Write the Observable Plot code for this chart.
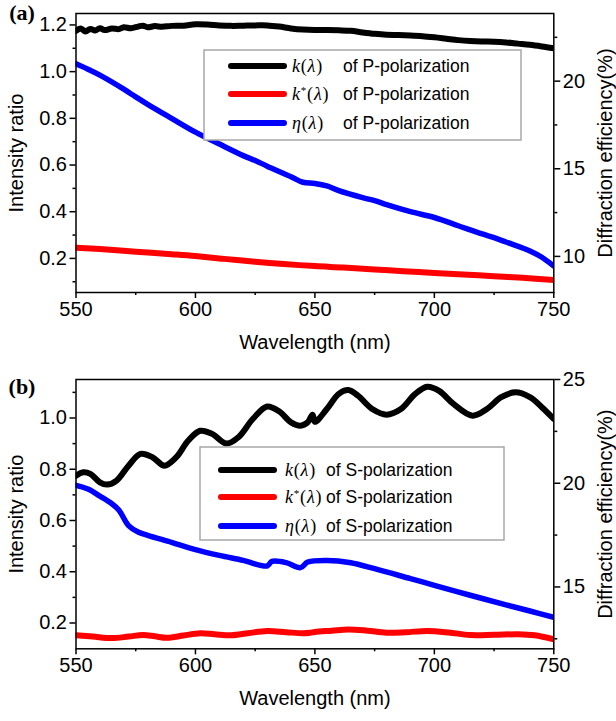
<!DOCTYPE html>
<html><head><meta charset="utf-8">
<script src="https://cdn.jsdelivr.net/npm/d3@7"></script>
<script src="https://cdn.jsdelivr.net/npm/@observablehq/plot@0.6"></script>
<style>
body{margin:0;background:#fff;}
#wrap{position:relative;width:616px;height:721px;overflow:hidden;background:#fff;}
#wrap svg{display:block;}
#overlay{position:absolute;left:0;top:0;pointer-events:none;}
</style></head><body><div id="wrap"></div>
<script>
// ---------- data ----------
const wavelengthTicks = [550, 600, 650, 700, 750];
const wavelengthMinor = [575, 625, 675, 725];

// Panel (a) P-polarization: [wavelength nm, value]
const kP = [[550,1.175],[552,1.185],[554,1.172],[556,1.183],[558,1.176],[560,1.186],[562,1.178],[565,1.185],[568,1.182],[570,1.19],[573,1.186],[576,1.193],[578,1.197],[580,1.19],[583,1.195],[586,1.192],[590,1.196],[595,1.197],[600,1.203],[605,1.202],[610,1.198],[615,1.196],[620,1.197],[625,1.198],[630,1.198],[635,1.193],[640,1.185],[645,1.18],[650,1.178],[655,1.178],[660,1.177],[665,1.175],[670,1.168],[675,1.162],[680,1.158],[685,1.157],[690,1.155],[695,1.152],[700,1.147],[705,1.141],[710,1.135],[715,1.131],[720,1.129],[725,1.128],[730,1.125],[735,1.12],[740,1.115],[745,1.108],[750,1.10]];
const kStarP = [[550,0.246],[560,0.24],[575,0.229],[590,0.218],[600,0.21],[612,0.198],[625,0.186],[637,0.176],[650,0.167],[662,0.161],[675,0.153],[687,0.145],[700,0.138],[712,0.131],[725,0.124],[737,0.117],[750,0.108]];
const etaP = [[550,20.99],[555,20.68],[560,20.34],[570,19.54],[575,19.10],[580,18.68],[590,17.88],[600,17.09],[610,16.41],[620,15.75],[625,15.47],[630,15.15],[640,14.55],[645,14.23],[650,14.16],[655,14.02],[660,13.75],[670,13.35],[675,13.18],[680,12.95],[690,12.55],[700,12.22],[710,11.75],[720,11.28],[725,11.07],[730,10.82],[740,10.31],[745,9.95],[750,9.45]];

// Panel (b) S-polarization
const kS = [[550,0.775],[553,0.788],[556,0.782],[560,0.749],[563,0.74],[567,0.756],[572,0.814],[577,0.86],[582,0.847],[587,0.814],[592,0.847],[597,0.912],[602,0.95],[607,0.938],[613,0.90],[618,0.925],[624,0.996],[630,1.045],[635,1.026],[640,0.983],[644,0.97],[647,0.983],[649,1.013],[650,0.985],[655,1.035],[660,1.094],[664,1.109],[668,1.087],[674,1.035],[680,1.013],[686,1.035],[692,1.094],[697,1.122],[702,1.106],[708,1.055],[716,1.009],[722,1.035],[728,1.081],[734,1.10],[740,1.081],[745,1.042],[750,0.996]];
const kStarS = [[550,0.152],[557,0.147],[565,0.141],[572,0.147],[578,0.153],[583,0.148],[588,0.142],[595,0.151],[602,0.160],[608,0.156],[615,0.152],[622,0.160],[630,0.169],[638,0.164],[645,0.160],[648,0.162],[650,0.165],[657,0.170],[664,0.175],[672,0.170],[680,0.162],[688,0.164],[697,0.169],[706,0.163],[715,0.153],[725,0.154],[735,0.156],[742,0.152],[750,0.136]];
const etaS = [[550,19.90],[555,19.72],[560,19.38],[565,19.01],[568,18.70],[572,17.96],[576,17.65],[580,17.49],[590,17.15],[600,16.80],[610,16.52],[620,16.28],[630,16.01],[632,16.23],[638,16.17],[644,15.93],[647,16.20],[655,16.28],[665,16.17],[675,15.88],[690,15.40],[700,15.08],[715,14.60],[730,14.14],[740,13.84],[750,13.54]];

const leftTicksA = [0.2, 0.4, 0.6, 0.8, 1.0, 1.2];
const leftMinorA = [0.1, 0.3, 0.5, 0.7, 0.9, 1.1];
const rightTicksA = [10, 15, 20];
const rightMinorA = [12.5, 17.5, 22.5];
const leftTicksB = [0.2, 0.4, 0.6, 0.8, 1.0];
const leftMinorB = [0.3, 0.5, 0.7, 0.9, 1.1];
const rightTicksB = [15, 20, 25];
const rightMinorB = [12.5, 17.5, 22.5];

const legendLabelsA = ["of P-polarization", "of P-polarization", "of P-polarization"];
const legendLabelsB = ["of S-polarization", "of S-polarization", "of S-polarization"];
const colors = ["#000000", "#ff0000", "#0000ff"];

// ---------- drawing ----------
const SANS = '"Liberation Sans", Arial, sans-serif';
const SERIF = '"Liberation Serif", "Times New Roman", serif';

function panel({height, marginTop, marginBottom, yDomain, k, kStar, eta, a, b,
                leftTicks, leftMinor, rightTicks, rightMinor, tag, tagDy}) {
  const toLeft = r => a + b * r;
  const fromLeft = v => (v - a) / b;
  const lineOpts = {x: d => d[0], strokeWidth: 5.5, curve: "catmull-rom", clip: true};
  return Plot.plot({
    width: 616, height, marginLeft: 75.5, marginRight: 62.7, marginTop, marginBottom,
    style: {fontFamily: SANS, fontSize: "20px", color: "black", background: "white", overflow: "visible"},
    x: {domain: [550, 750], axis: null},
    y: {domain: yDomain, axis: null},
    marks: [
      Plot.line(kStar, {...lineOpts, y: d => d[1], stroke: colors[1], strokeWidth: 6}),
      Plot.line(eta, {...lineOpts, y: d => toLeft(d[1]), stroke: colors[2]}),
      Plot.line(k, {...lineOpts, y: d => d[1], stroke: colors[0], strokeWidth: 6}),
      Plot.frame({stroke: "black", strokeWidth: 1.5}),
      Plot.axisX({ticks: wavelengthTicks, tickSize: 6, tickPadding: 3, tickFormat: d => String(d), label: null, strokeWidth: 1.5, fontSize: 20}),
      Plot.axisX({ticks: wavelengthMinor, tickSize: 3, tickFormat: () => "", label: null, strokeWidth: 1.5}),
      Plot.axisY({anchor: "left", ticks: leftTicks, tickSize: 6, tickPadding: 3, tickFormat: d3.format(".1f"), label: null, strokeWidth: 1.5, fontSize: 20}),
      Plot.axisY({anchor: "left", ticks: leftMinor, tickSize: 3, tickFormat: () => "", label: null, strokeWidth: 1.5}),
      Plot.axisY({anchor: "right", ticks: rightTicks.map(toLeft), tickSize: 6, tickPadding: 3, tickFormat: d => String(Math.round(fromLeft(d))), label: null, strokeWidth: 1.5, fontSize: 20}),
      Plot.axisY({anchor: "right", ticks: rightMinor.map(toLeft), tickSize: 3, tickFormat: () => "", label: null, strokeWidth: 1.5}),
      Plot.text(["Wavelength (nm)"], {frameAnchor: "bottom", text: d => d, dy: 50, textAnchor: "middle", lineAnchor: "middle", fontSize: 20}),
      Plot.text(["Intensity ratio"], {frameAnchor: "left", text: d => d, rotate: -90, dx: -59, textAnchor: "middle", lineAnchor: "middle", fontSize: 20}),
      Plot.text(["Diffraction efficiency(%)"], {frameAnchor: "right", text: d => d, rotate: -90, dx: 52, textAnchor: "middle", lineAnchor: "middle", fontSize: 20}),
      Plot.text([tag], {frameAnchor: "top-left", text: d => d, dx: -54, dy: tagDy, textAnchor: "middle", lineAnchor: "middle", fontSize: 22, fontWeight: "bold", fontFamily: SERIF})
    ]
  });
}

const wrap = document.getElementById("wrap");
const svgA = panel({height: 360, marginTop: 13, marginBottom: 68, yDomain: [0.054, 1.249],
  k: kP, kStar: kStarP, eta: etaP, a: -0.5421, b: 0.07507,
  leftTicks: leftTicksA, leftMinor: leftMinorA, rightTicks: rightTicksA, rightMinor: rightMinorA, tag: "(a)", tagDy: -1});
const svgB = panel({height: 361, marginTop: 19, marginBottom: 72.7, yDomain: [0.0993, 1.1502],
  k: kS, kStar: kStarS, eta: etaS, a: -0.8736, b: 0.08095,
  leftTicks: leftTicksB, leftMinor: leftMinorB, rightTicks: rightTicksB, rightMinor: rightMinorB, tag: "(b)", tagDy: 7});
wrap.appendChild(svgA);
wrap.appendChild(svgB);

// legends (overlay)
const ov = d3.select(wrap).append("svg").attr("id", "overlay").attr("width", 616).attr("height", 721);
function legend({x, y, w, h, rowYs, lx1, lx2, mathX, textX, labels}) {
  const g = ov.append("g");
  g.append("rect").attr("x", x).attr("y", y).attr("width", w).attr("height", h)
    .attr("fill", "white").attr("stroke", "#a8a8a8").attr("stroke-width", 1.5);
  const maths = ["k", "k*", "eta"];
  rowYs.forEach((ry, i) => {
    g.append("line").attr("x1", lx1).attr("x2", lx2).attr("y1", ry).attr("y2", ry)
      .attr("stroke", colors[i]).attr("stroke-width", 6).attr("stroke-linecap", "round");
    const t = g.append("text").attr("x", mathX).attr("y", ry).attr("dy", "0.35em")
      .attr("font-family", SERIF).attr("font-size", 18).attr("letter-spacing", 0.8);
    if (maths[i] === "eta") t.append("tspan").attr("font-style", "italic").text("η");
    else t.append("tspan").attr("font-style", "italic").text("k");
    if (maths[i] === "k*") t.append("tspan").attr("dy", -6).attr("font-size", 11).text("*");
    t.append("tspan").attr("dy", maths[i] === "k*" ? 6 : 0).text("(");
    t.append("tspan").attr("font-style", "italic").text("λ");
    t.append("tspan").text(")");
    g.append("text").attr("x", textX).attr("y", ry).attr("dy", "0.35em")
      .attr("font-family", SANS).attr("font-size", 17.5).text(labels[i]);
  });
}
legend({x: 204, y: 50, w: 317, h: 90, rowYs: [66, 94, 123], lx1: 231, lx2: 284, mathX: 292, textX: 343, labels: legendLabelsA});
legend({x: 200, y: 447, w: 304, h: 93, rowYs: [470, 497, 526], lx1: 221, lx2: 274, mathX: 285, textX: 326, labels: legendLabelsB});
</script>
</body></html>
